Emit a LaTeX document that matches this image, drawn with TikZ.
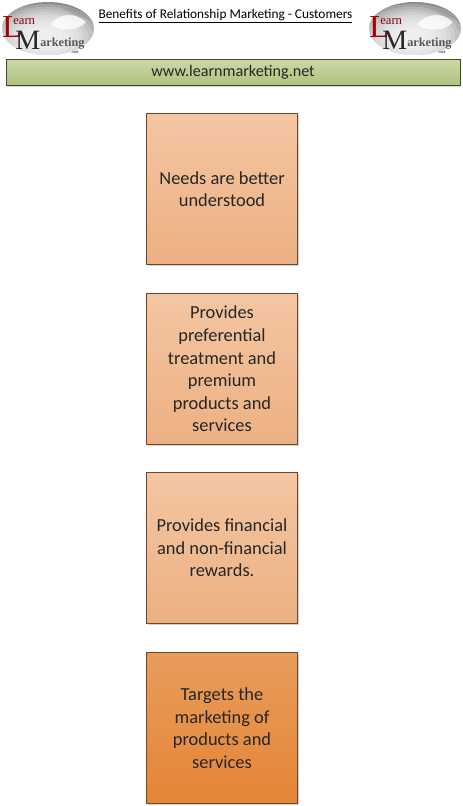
\documentclass[tikz,border=0pt]{standalone}
\usepackage{fontspec}
\setmainfont{Carlito}
\newfontfamily\logofont{Liberation Serif}
\usetikzlibrary{shadows}
\definecolor{edgeg}{HTML}{3F4A2A}
\definecolor{edgeo}{HTML}{6B4A2C}
\definecolor{cardA}{HTML}{F3C6A2}
\definecolor{cardB}{HTML}{EDB083}
\definecolor{cardC}{HTML}{E89C5C}
\definecolor{cardD}{HTML}{E58536}
\definecolor{banA}{HTML}{CBD8A6}
\definecolor{banB}{HTML}{AFC27E}
\tikzset{
 x=0.75pt,y=-0.75pt,
 card/.style={draw=edgeo,line width=0.7pt,minimum width=113.25pt,minimum height=113.25pt,align=center,
   font=\fontsize{13.8}{16.9}\selectfont,text=black!85,inner sep=0pt,
   general shadow={shadow xshift=1pt,shadow yshift=-1pt,fill=black!18}},
 lightcard/.style={card,top color=cardA,bottom color=cardB},
 darkcard/.style={card,top color=cardC,bottom color=cardD},
 bannerbox/.style={draw=edgeg,line width=0.7pt,top color=banA,bottom color=banB,minimum width=340.5pt,minimum height=19.5pt,
   font=\fontsize{12.1}{14}\selectfont,text=black!85,inner sep=0pt,
   general shadow={shadow xshift=0.8pt,shadow yshift=-0.8pt,fill=black!15}},
 titletext/.style={font=\fontsize{10}{12}\selectfont,inner sep=0pt,text=black},
 logoword/.style={inner sep=0pt,anchor=base west},
}
\newcommand{\lmlogo}[2]{%
 \begin{scope}[shift={(#1,0)}]
  \begin{scope}
   \clip (48,28.5) ellipse [x radius=46,y radius=26.5];
   \fill[black!45] (0,0) rectangle (96,58);
   \foreach \r in {1.0,0.92,0.84,0.76,0.68,0.6,0.5,0.4,0.3} {
     \fill[white,opacity=.2] (46,38) ellipse [x radius=56*\r,y radius=34*\r];
   }
   \fill[white,opacity=.8] (50,24) .. controls (60,13) and (75,12) .. (86,22) .. controls (78,31) and (62,33) .. (50,24) -- cycle;
   \fill[black!45,opacity=.35] (62,8) .. controls (72,7) and (82,12) .. (88,19) .. controls (78,16) and (70,13) .. (62,8) -- cycle;
  \end{scope}
  \node[logoword,text=red!65!black,font=\logofont\fontsize{24}{24}\selectfont] (#2L) at (2,38) {L};
  \node[logoword,text=red!55!black,font=\logofont\fontsize{9.5}{10}\selectfont] (#2e) at (13,25) {earn};
  \node[logoword,text=black!85,font=\logofont\fontsize{21}{22}\selectfont] (#2m) at (15,50) {M};
  \node[logoword,text=black!65,font=\logofont\bfseries\fontsize{9.2}{10}\selectfont] (#2a) at (40,47) {arketing};
  \node[logoword,text=black!65,font=\logofont\bfseries\fontsize{3.5}{4}\selectfont] (#2n) at (71,54) {.net};
 \end{scope}}
\begin{document}
\begin{tikzpicture}
\useasboundingbox (0,0) rectangle (462,806);
\fill[white] (0,0) rectangle (462,806);
\lmlogo{0}{lf}
\lmlogo{367}{rt}
\node[titletext] (title) at (225.5,16) {\underline{Benefits of Relationship Marketing - Customers}};
\node[bannerbox] (banner) at (233,72.5) {www.learnmarketing.net};
\node[lightcard] (c1) at (222,189) {Needs are better\\understood};
\node[lightcard] (c2) at (222,369) {Provides\\preferential\\treatment and\\premium\\products and\\services};
\node[lightcard] (c3) at (222,548) {Provides financial\\and non-financial\\rewards.};
\node[darkcard] (c4) at (222,728) {Targets the\\marketing of\\products and\\services};
\end{tikzpicture}
\end{document}
